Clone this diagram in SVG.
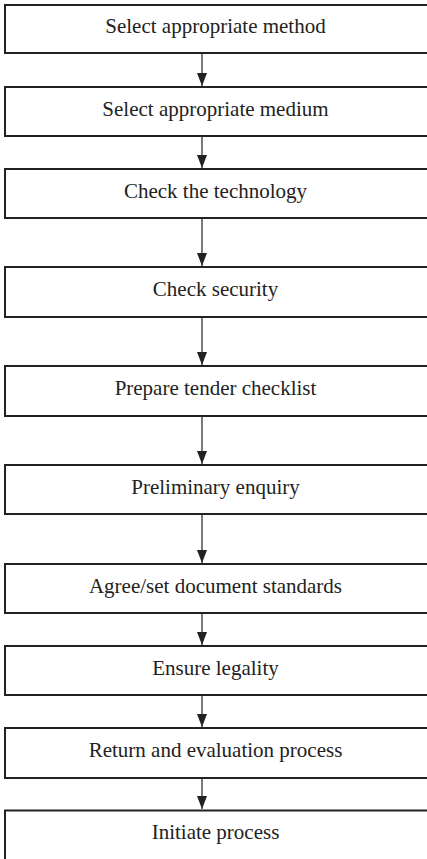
<svg xmlns="http://www.w3.org/2000/svg" width="427" height="859" viewBox="0 0 427 859">
<style>
.box{fill:#fff;stroke:#222;stroke-width:2}
.lbl{font-family:"Liberation Serif","Times New Roman",serif;font-size:21px;fill:#222;text-anchor:middle}
.conn{stroke:#222;stroke-width:1.2;fill:none;marker-end:url(#ah)}
</style>
<defs>
<marker id="ah" markerWidth="13" markerHeight="10" refX="13" refY="5" orient="auto" markerUnits="userSpaceOnUse" viewBox="0 0 13 10">
<path d="M0,0 L13,5 L0,10 Z" fill="#222"/>
</marker>
</defs>
<rect x="0" y="0" width="427" height="859" fill="#fff"/>
<g id="connectors">
<line class="conn" x1="202" y1="54" x2="202" y2="86"/>
<line class="conn" x1="202" y1="137" x2="202" y2="168"/>
<line class="conn" x1="202" y1="219" x2="202" y2="266"/>
<line class="conn" x1="202" y1="318" x2="202" y2="365"/>
<line class="conn" x1="202" y1="417" x2="202" y2="464"/>
<line class="conn" x1="202" y1="515" x2="202" y2="563"/>
<line class="conn" x1="202" y1="614" x2="202" y2="645"/>
<line class="conn" x1="202" y1="696" x2="202" y2="727"/>
<line class="conn" x1="202" y1="779" x2="202" y2="809"/>
</g>
<g id="n1"><rect class="box" x="5" y="5" width="430" height="48"/><text class="lbl" x="215.5" y="33">Select appropriate method</text></g>
<g id="n2"><rect class="box" x="5" y="87" width="430" height="49"/><text class="lbl" x="215.5" y="115.5">Select appropriate medium</text></g>
<g id="n3"><rect class="box" x="5" y="169" width="430" height="49"/><text class="lbl" x="215.5" y="197.5">Check the technology</text></g>
<g id="n4"><rect class="box" x="5" y="267" width="430" height="50"/><text class="lbl" x="215.5" y="296">Check security</text></g>
<g id="n5"><rect class="box" x="5" y="366" width="430" height="50"/><text class="lbl" x="215.5" y="395">Prepare tender checklist</text></g>
<g id="n6"><rect class="box" x="5" y="465" width="430" height="49"/><text class="lbl" x="215.5" y="493.5">Preliminary enquiry</text></g>
<g id="n7"><rect class="box" x="5" y="564" width="430" height="49"/><text class="lbl" x="215.5" y="592.5">Agree/set document standards</text></g>
<g id="n8"><rect class="box" x="5" y="646" width="430" height="49"/><text class="lbl" x="215.5" y="674.5">Ensure legality</text></g>
<g id="n9"><rect class="box" x="5" y="728" width="430" height="50"/><text class="lbl" x="215.5" y="757">Return and evaluation process</text></g>
<g id="n10"><rect class="box" x="5" y="810.5" width="430" height="60"/><text class="lbl" x="215.5" y="838.5">Initiate process</text></g>
</svg>
